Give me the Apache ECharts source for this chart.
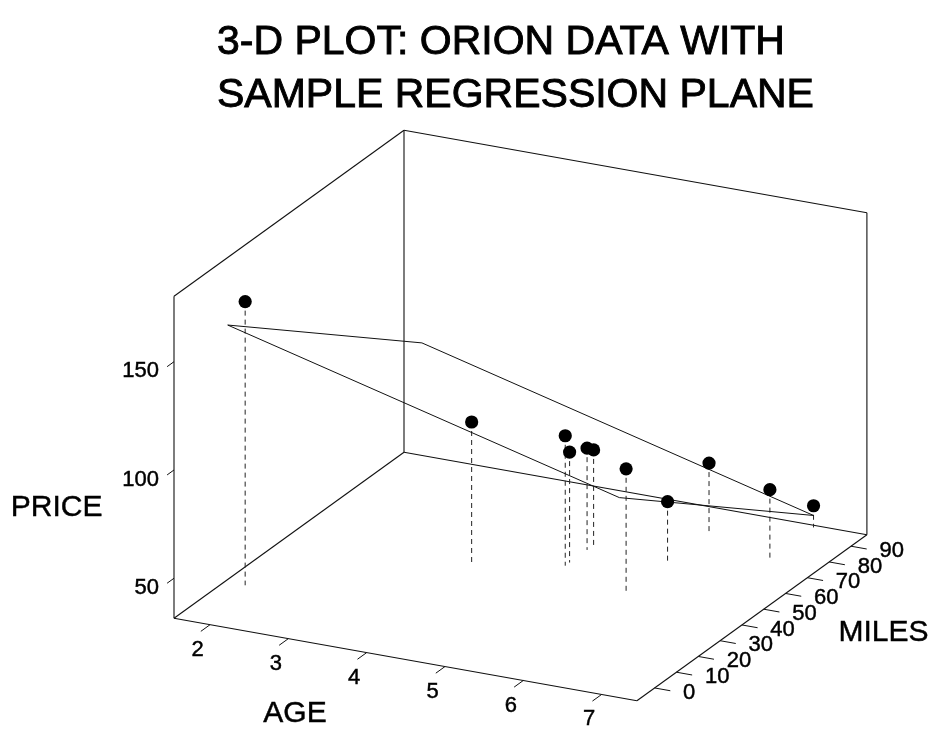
<!DOCTYPE html>
<html><head><meta charset="utf-8">
<script src="https://cdn.jsdelivr.net/npm/echarts@6/dist/echarts.min.js"></script>
<style>html,body{margin:0;padding:0;background:#fff}#chart{width:942px;height:730px}</style>
</head><body><div id="chart"></div>
<script>
// ---- Data: Orion used cars ----
const age   = [5, 4, 6, 5, 5, 5, 6, 6, 2, 7, 7];
const miles = [57, 40, 77, 60, 49, 47, 58, 39, 8, 69, 89];
const price = [85, 103, 70, 82, 89, 98, 66, 95, 169, 70, 48];
// sample regression plane: PRICE = b0 + b1*AGE + b2*MILES
const planeCoef = [183.0, -9.5, -0.82];
const planeAge = [2, 7];
const planeMiles = [0, 89];
// axes
const ageTicks = [2, 3, 4, 5, 6, 7];
const milesTicks = [0, 10, 20, 30, 40, 50, 60, 70, 80, 90];
const priceTicks = [50, 100, 150];
const ageBounds = [1.54, 7.45];
const milesBounds = [-8.1, 97.3];
const priceBounds = [31.5, 180.2];
const needleBase = 38;

// ---- projection (parallel, screen units, y up) ----
const VA = [462.9, -82.4], VM = [230, 166], VP = [0, 322];
function nrm(v, b) { return (v - b[0]) / (b[1] - b[0]); }
function proj(a, m, p) {
  const na = nrm(a, ageBounds), nm = nrm(m, milesBounds), np = nrm(p, priceBounds);
  return [na * VA[0] + nm * VM[0] + np * VP[0], na * VA[1] + nm * VM[1] + np * VP[1]];
}
const FONT = '"Liberation Sans", Arial, Helvetica, sans-serif';
const INK = '#111';

const A0 = ageBounds[0], A1 = ageBounds[1], M0 = milesBounds[0], M1 = milesBounds[1], P0 = priceBounds[0], P1 = priceBounds[1];
const edges = [
  [[A0, M0, P0], [A0, M0, P1]],
  [[A0, M1, P0], [A0, M1, P1]],
  [[A1, M1, P0], [A1, M1, P1]],
  [[A0, M0, P0], [A1, M0, P0]],
  [[A1, M0, P0], [A1, M1, P0]],
  [[A0, M0, P0], [A0, M1, P0]],
  [[A0, M1, P0], [A1, M1, P0]],
  [[A0, M0, P1], [A0, M1, P1]],
  [[A0, M1, P1], [A1, M1, P1]]
];

function idx(n) { const r = []; for (let i = 0; i < n; i++) r.push([i]); return r; }
function line(api, p, q, style) {
  const a = api.coord(p), b = api.coord(q);
  return { type: 'line', shape: { x1: a[0], y1: a[1], x2: b[0], y2: b[1] }, style: style };
}
function txt(size, extra) {
  return Object.assign({ font: size + 'px ' + FONT, fill: '#000', stroke: '#000', lineWidth: size > 35 ? 0.9 : 0.45 }, extra);
}

const option = {
  animation: false,
  backgroundColor: '#fff',
  grid: { left: 174, top: 130.3, width: 693.3, height: 570.4, show: false },
  xAxis: { type: 'value', min: 0, max: 693.3, show: false },
  yAxis: { type: 'value', min: -82.4, max: 488, show: false },
  graphic: [
    { type: 'text', x: 217, y: 43, style: txt(41, { text: '3-D PLOT: ORION DATA WITH', align: 'left', verticalAlign: 'middle' }) },
    { type: 'text', x: 217, y: 96, style: txt(41, { text: 'SAMPLE REGRESSION PLANE', align: 'left', verticalAlign: 'middle' }) },
    { type: 'text', x: 56.7, y: 508, style: txt(30, { text: 'PRICE', align: 'center', verticalAlign: 'middle' }) },
    { type: 'text', x: 295, y: 714, style: txt(30, { text: 'AGE', align: 'center', verticalAlign: 'middle' }) },
    { type: 'text', x: 883.5, y: 633, style: txt(30, { text: 'MILES', align: 'center', verticalAlign: 'middle' }) }
  ],
  series: [
    { // box
      type: 'custom', silent: true, data: idx(edges.length),
      renderItem: function (params, api) {
        const e = edges[params.dataIndex];
        return line(api, proj.apply(null, e[0]), proj.apply(null, e[1]), { stroke: INK, lineWidth: 1.1 });
      }
    },
    { // needles
      type: 'custom', silent: true, data: idx(age.length),
      renderItem: function (params, api) {
        const i = params.dataIndex;
        return line(api, proj(age[i], miles[i], price[i]), proj(age[i], miles[i], needleBase),
          { stroke: '#222', lineWidth: 1, lineDash: [5, 4] });
      }
    },
    { // regression plane
      type: 'custom', silent: true, data: [[0]],
      renderItem: function (params, api) {
        const f = (a, m) => planeCoef[0] + planeCoef[1] * a + planeCoef[2] * m;
        const c = [[planeAge[0], planeMiles[0]], [planeAge[0], planeMiles[1]], [planeAge[1], planeMiles[1]], [planeAge[1], planeMiles[0]]];
        const pts = c.map(q => api.coord(proj(q[0], q[1], f(q[0], q[1]))));
        return { type: 'polygon', shape: { points: pts }, style: { fill: 'none', stroke: INK, lineWidth: 1 } };
      }
    },
    { // points
      type: 'custom', silent: true, data: idx(age.length),
      renderItem: function (params, api) {
        const i = params.dataIndex;
        const c = api.coord(proj(age[i], miles[i], price[i]));
        return { type: 'circle', shape: { cx: c[0], cy: c[1], r: 6.6 }, style: { fill: '#000' } };
      }
    },
    { // AGE ticks
      type: 'custom', silent: true, data: idx(ageTicks.length),
      renderItem: function (params, api) {
        const v = ageTicks[params.dataIndex];
        const dm = 0.04 * (M1 - M0);
        const p = api.coord(proj(v, M0, P0));
        return { type: 'group', children: [
          line(api, proj(v, M0, P0), proj(v, M0 - dm, P0), { stroke: INK, lineWidth: 1 }),
          { type: 'text', x: p[0] - 12.5, y: p[1] + 25, style: txt(22, { text: String(v), align: 'center', verticalAlign: 'middle' }) }
        ] };
      }
    },
    { // MILES ticks
      type: 'custom', silent: true, data: idx(milesTicks.length),
      renderItem: function (params, api) {
        const v = milesTicks[params.dataIndex];
        const da = 0.034 * (A1 - A0);
        const p = api.coord(proj(A1, v, P0));
        return { type: 'group', children: [
          line(api, proj(A1, v, P0), proj(A1 + da, v, P0), { stroke: INK, lineWidth: 1 }),
          { type: 'text', x: p[0] + 28.5, y: p[1] + 4.5, style: txt(22, { text: String(v), align: 'left', verticalAlign: 'middle' }) }
        ] };
      }
    },
    { // PRICE ticks
      type: 'custom', silent: true, data: idx(priceTicks.length),
      renderItem: function (params, api) {
        const v = priceTicks[params.dataIndex];
        const dm = 0.03 * (M1 - M0);
        const p = api.coord(proj(A0, M0, v));
        return { type: 'group', children: [
          line(api, proj(A0, M0, v), proj(A0, M0 - dm, v), { stroke: INK, lineWidth: 1 }),
          { type: 'text', x: p[0] - 15, y: p[1] + 9.5, style: txt(22, { text: String(v), align: 'right', verticalAlign: 'middle' }) }
        ] };
      }
    }
  ]
};
const chart = echarts.init(document.getElementById('chart'), null, { renderer: 'canvas' });
chart.setOption(option);
</script></body></html>
